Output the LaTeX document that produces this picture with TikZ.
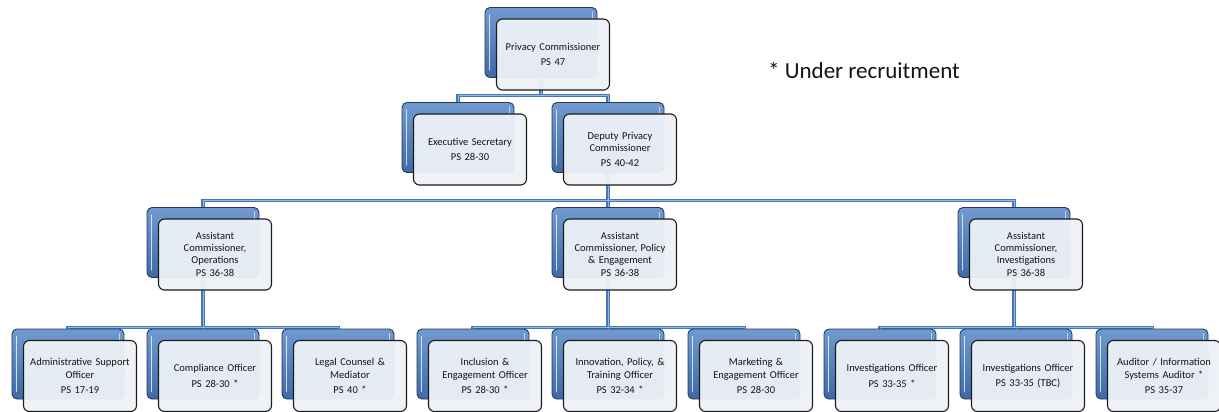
\documentclass[tikz,border=0pt]{standalone}
\usepackage{fontspec}
\setmainfont{Carlito}
\usetikzlibrary{calc,backgrounds}
\definecolor{backtop}{RGB}{112,154,208}
\definecolor{backbot}{RGB}{62,106,168}
\definecolor{backline}{RGB}{38,56,86}
\definecolor{frontfill}{RGB}{238,242,247}
\definecolor{frontline}{RGB}{28,28,28}
\definecolor{txt}{RGB}{20,20,20}
\definecolor{connblue}{RGB}{70,118,182}
\definecolor{connlight}{RGB}{150,186,228}
\tikzset{
  backbox/.style={draw=backline, line width=0.9pt, rounded corners=5pt,
    minimum width=112pt, minimum height=70pt, inner sep=0pt,
    top color=backtop, bottom color=backbot},
  frontbox/.style={draw=frontline, line width=1.1pt, rounded corners=6pt,
    minimum width=113pt, minimum height=71pt, inner sep=0pt,
    fill=frontfill, fill opacity=0.95, text opacity=1, text=txt,
    text width=110pt, align=center,
    font=\fontsize{10.5}{12.3}\selectfont},
  hlL/.style={draw=white, line width=1.6pt, opacity=0.75, line cap=round},
  hlR/.style={draw=white, line width=1.2pt, opacity=0.6, line cap=round},
  connouter/.style={draw=connblue, line width=3.8pt},
  conninner/.style={draw=connlight, line width=0.8pt},
  note/.style={font=\fontsize{23}{26}\selectfont, text=txt, anchor=west, inner sep=0pt}
}
\newcommand\orgunit[4]{%
  \node[backbox] (#1b) at (#2,#3) {};
  \draw[hlL] ($(#1b.north west)+(5,8)$) -- ($(#1b.south west)+(5,-8)$);
  \draw[hlR] ($(#1b.north east)+(-5,5)$) -- ($(#1b.north east)+(-5,20)$);
  \node[frontbox] (#1) at ($(#1b)+(12,12)$) {#4};
}
\newcommand\allconns[1]{%
  \draw[#1] (pcb.south) -- ++(0,17.5) -| (esb.north);
  \draw[#1] (pcb.south) -- ++(0,17.5) -| (dpb.north);
  \draw[#1] (dpb.south) -- ++(0,27.5) -| (opsb.north);
  \draw[#1] (dpb.south) -- ++(0,27.5) -| (polb.north);
  \draw[#1] (dpb.south) -- ++(0,27.5) -| (invb.north);
  \draw[#1] (opsb.south) -- ++(0,49.5) -| (admb.north);
  \draw[#1] (opsb.south) -- ++(0,49.5) -| (comb.north);
  \draw[#1] (opsb.south) -- ++(0,49.5) -| (legb.north);
  \draw[#1] (polb.south) -- ++(0,49.5) -| (incb.north);
  \draw[#1] (polb.south) -- ++(0,49.5) -| (innb.north);
  \draw[#1] (polb.south) -- ++(0,49.5) -| (mktb.north);
  \draw[#1] (invb.south) -- ++(0,49.5) -| (ivab.north);
  \draw[#1] (invb.south) -- ++(0,49.5) -| (ivbb.north);
  \draw[#1] (invb.south) -- ++(0,49.5) -| (audb.north);
}
\begin{document}
\begin{tikzpicture}[x=1pt,y=-1pt]
\useasboundingbox (0,0) rectangle (1219,412);
% level 1
\orgunit{pc}{541}{42.5}{Privacy Commissioner\\[3pt]PS 47}
% level 2
\orgunit{es}{458}{137.5}{Executive Secretary\\[3pt]PS 28-30}
\orgunit{dp}{608}{137.5}{Deputy Privacy\\Commissioner\\[3pt]PS 40-42}
% level 3
\orgunit{ops}{203}{242.5}{Assistant\\Commissioner,\\Operations\\[0.5pt]PS 36-38}
\orgunit{pol}{608}{242.5}{Assistant\\Commissioner, Policy\\\& Engagement\\[0.5pt]PS 36-38}
\orgunit{inv}{1014}{242.5}{Assistant\\Commissioner,\\Investigations\\[0.5pt]PS 36-38}
% level 4
\orgunit{adm}{68}{364}{Administrative Support\\Officer\\[3pt]PS 17-19}
\orgunit{com}{203}{364}{Compliance Officer\\[3pt]PS 28-30 *}
\orgunit{leg}{338}{364}{Legal Counsel \&\\Mediator\\[3pt]PS 40 *}
\orgunit{inc}{473}{364}{Inclusion \&\\Engagement Officer\\[3pt]PS 28-30 *}
\orgunit{inn}{608}{364}{Innovation, Policy, \&\\Training Officer\\[3pt]PS 32-34 *}
\orgunit{mkt}{744}{364}{Marketing \&\\Engagement Officer\\[3pt]PS 28-30}
\orgunit{iva}{880}{364}{Investigations Officer\\[3pt]PS 33-35 *}
\orgunit{ivb}{1016}{364}{Investigations Officer\\[3pt]PS 33-35 (TBC)}
\orgunit{aud}{1152}{364}{Auditor / Information\\Systems Auditor *\\[3pt]PS 35-37}
% connectors
\begin{scope}[on background layer]
  \fill[white] (0,0) rectangle (1219,412);
  \allconns{connouter}
  \allconns{conninner}
\end{scope}
% note
\node[note] (note) at (768,70) {* Under recruitment};
\end{tikzpicture}
\end{document}
